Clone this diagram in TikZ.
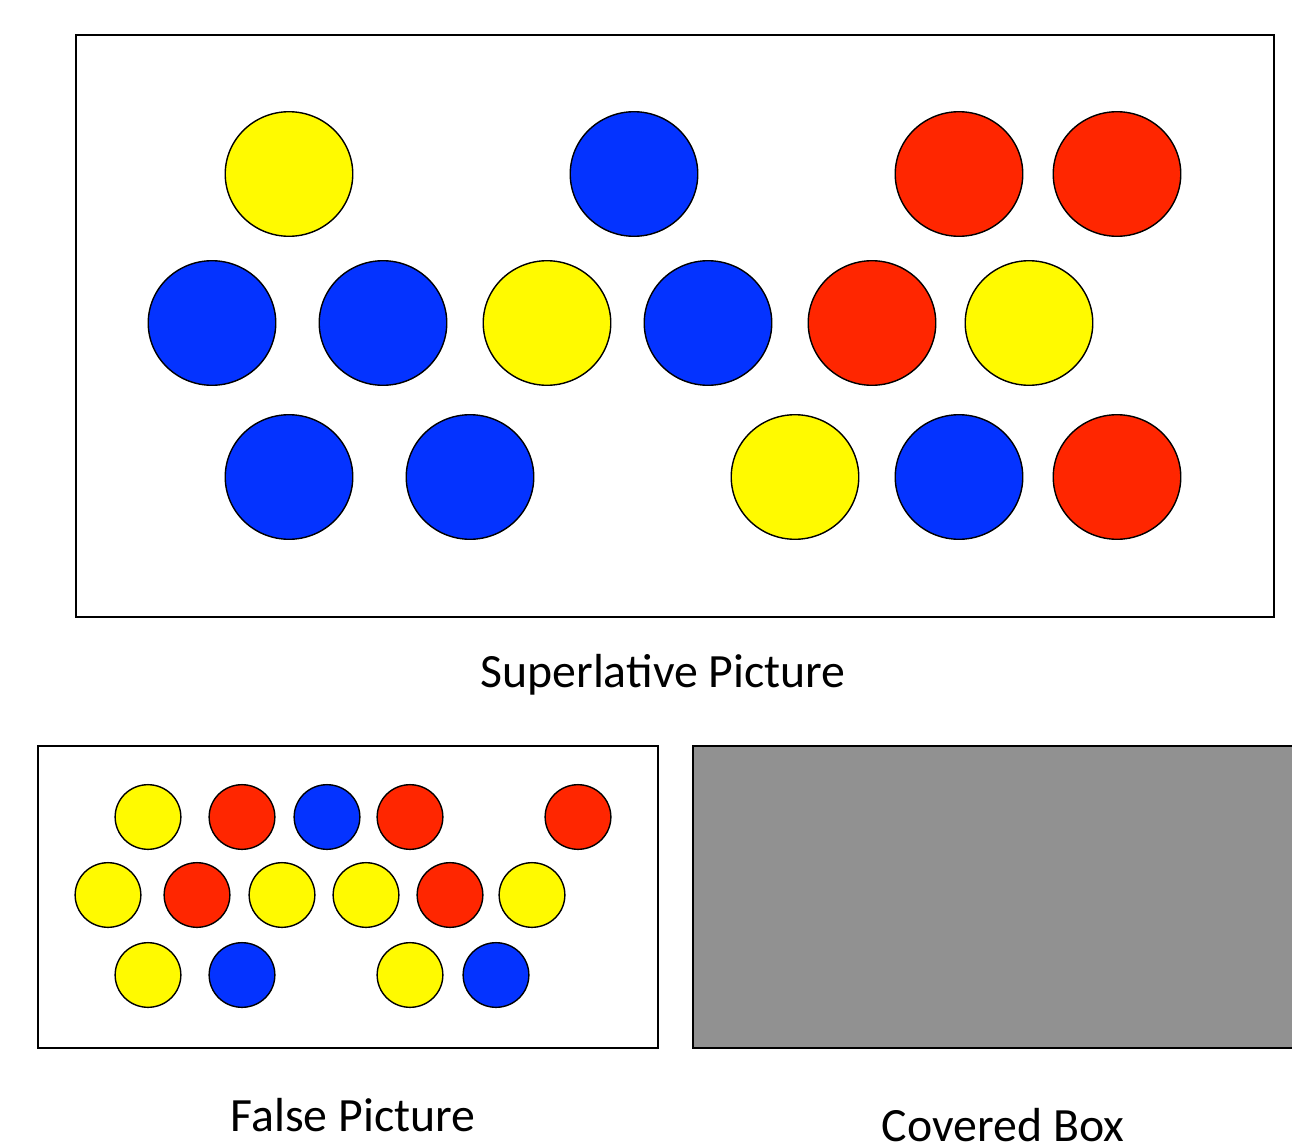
\documentclass[tikz,border=0pt]{standalone}
\usepackage{fontspec}
\setmainfont{Carlito}
\usetikzlibrary{shapes.geometric}
\definecolor{dotyellow}{HTML}{FFFA00}
\definecolor{dotblue}{HTML}{0433FF}
\definecolor{dotred}{HTML}{FF2600}
\definecolor{cover}{HTML}{919191}
\tikzset{
  frame/.style   = {draw=black, line width=1.4pt, inner sep=0pt},
  bigdot/.style  = {ellipse, draw=black, line width=0.8pt, inner sep=0pt,
                    minimum width=72.6pt, minimum height=70.9pt},
  smalldot/.style= {ellipse, draw=black, line width=0.8pt, inner sep=0pt,
                    minimum width=37.4pt, minimum height=36.8pt},
  caption/.style = {font=\fontsize{27.2}{32}\selectfont, inner sep=0pt},
}

\begin{document}
\begin{tikzpicture}[x=0.02cm, y=-0.02cm]
\useasboundingbox (0,0) rectangle (1292,1143);

% superlative picture
\node[frame, minimum width=681.8pt, minimum height=331.1pt, anchor=north west] (supbox) at (75,34) {};
\foreach \x/\y/\c [count=\i] in {289/174/dotyellow, 634/174/dotblue, 959/174/dotred, 1117/174/dotred,
    212/323/dotblue, 383/323/dotblue, 547/323/dotyellow, 708/323/dotblue, 872/323/dotred, 1029/323/dotyellow,
    289/477/dotblue, 470/477/dotblue, 795/477/dotyellow, 959/477/dotblue, 1117/477/dotred}
  \node[bigdot, fill=\c] (s\i) at (\x,\y) {};
\node[caption] (suplab) at (663,675) {Superlative Picture};

% false picture
\node[frame, minimum width=352.6pt, minimum height=171.8pt, anchor=north west] (falsebox) at (37,745) {};
\foreach \x/\y/\c [count=\i] in {148/817/dotyellow, 242/817/dotred, 327/817/dotblue, 410/817/dotred, 578/817/dotred,
    108/895/dotyellow, 197/895/dotred, 282/895/dotyellow, 366/895/dotyellow, 450/895/dotred, 532/895/dotyellow,
    148/975/dotyellow, 242/975/dotblue, 410/975/dotyellow, 496/975/dotblue}
  \node[smalldot, fill=\c] (f\i) at (\x,\y) {};
\node[caption] (falselab) at (353,1115) {False Picture};

% covered box (runs off the page)
\node[frame, fill=cover, minimum width=362.8pt, minimum height=171.8pt, anchor=north west] (covbox) at (692,745) {};
\node[caption] (covlab) at (1003,1125) {Covered Box};
\end{tikzpicture}
\end{document}
